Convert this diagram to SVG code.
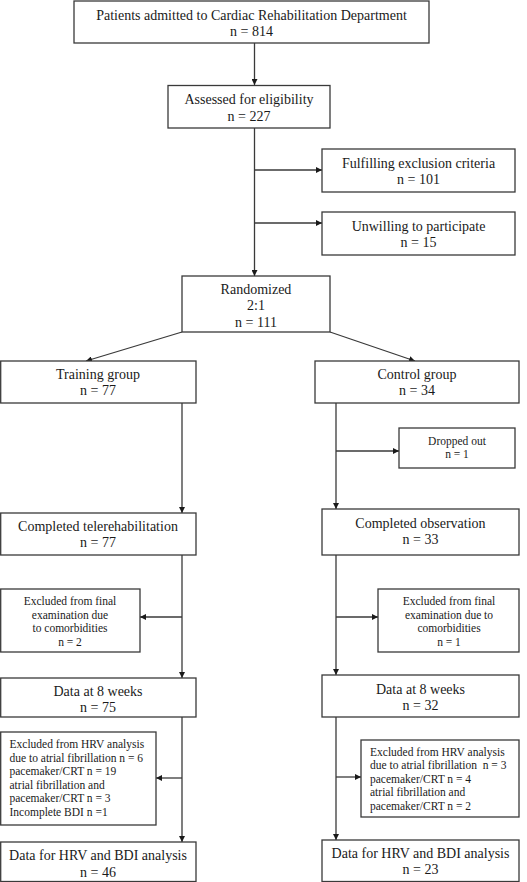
<svg xmlns="http://www.w3.org/2000/svg" width="527" height="882" viewBox="0 0 527 882">
<style>
rect{fill:#fff;stroke:#3a3a3a;stroke-width:1.3}
text{font-family:"Liberation Serif","Times New Roman",serif;fill:#1a1a1a;font-size:14px;text-anchor:middle}
text.s{font-size:11.5px}
text.l{text-anchor:start}
#connectors line,#connectors polyline{stroke:#3a3a3a;stroke-width:1.3;fill:none}
</style>
<defs>
<marker id="ah" viewBox="0 0 10 10" refX="10" refY="5" markerWidth="6" markerHeight="6" orient="auto" markerUnits="userSpaceOnUse">
<path d="M0,0 L10,5 L0,10 z" fill="#1a1a1a"/>
</marker>
</defs>
<rect x="0" y="0" width="527" height="882" style="stroke:none"/>
<g id="connectors">
<line x1="254.5" y1="43" x2="254.5" y2="85" marker-end="url(#ah)"/>
<line x1="254.5" y1="128" x2="254.5" y2="276" marker-end="url(#ah)"/>
<line x1="254.5" y1="170" x2="322" y2="170" marker-end="url(#ah)"/>
<line x1="254.5" y1="223" x2="322" y2="223" marker-end="url(#ah)"/>
<line x1="182" y1="332" x2="86" y2="361" marker-end="url(#ah)"/>
<line x1="330" y1="332" x2="415" y2="361" marker-end="url(#ah)"/>
<line x1="182" y1="403" x2="182" y2="513" marker-end="url(#ah)"/>
<line x1="336" y1="403" x2="336" y2="509" marker-end="url(#ah)"/>
<line x1="336" y1="451" x2="399" y2="451" marker-end="url(#ah)"/>
<line x1="182" y1="555" x2="182" y2="678" marker-end="url(#ah)"/>
<line x1="182" y1="617" x2="140" y2="617" marker-end="url(#ah)"/>
<line x1="336" y1="555" x2="336" y2="675" marker-end="url(#ah)"/>
<line x1="336" y1="617" x2="378" y2="617" marker-end="url(#ah)"/>
<line x1="182" y1="717" x2="182" y2="842" marker-end="url(#ah)"/>
<line x1="182" y1="778" x2="156" y2="778" marker-end="url(#ah)"/>
<line x1="336" y1="717" x2="336" y2="840" marker-end="url(#ah)"/>
<line x1="336" y1="777" x2="361" y2="777" marker-end="url(#ah)"/>
</g>
<g id="n-admitted"><rect x="74" y="1" width="355" height="42"/><text x="251.5" y="20">Patients admitted to Cardiac Rehabilitation Department</text><text x="251.5" y="36">n = 814</text></g>
<g id="n-assessed"><rect x="168" y="85.5" width="162" height="42.5"/><text x="249" y="104">Assessed for eligibility</text><text x="249" y="121">n = 227</text></g>
<g id="n-exclusion"><rect x="322" y="149" width="193" height="43"/><text x="418.5" y="168">Fulfilling exclusion criteria</text><text x="418.5" y="184">n = 101</text></g>
<g id="n-unwilling"><rect x="322" y="212" width="193" height="43"/><text x="418.5" y="231">Unwilling to participate</text><text x="418.5" y="247">n = 15</text></g>
<g id="n-randomized"><rect x="182" y="276" width="148" height="56"/><text x="256" y="294">Randomized</text><text x="256" y="310">2:1</text><text x="256" y="327">n = 111</text></g>
<g id="n-training"><rect x="0.7" y="361" width="195.3" height="42"/><text x="98" y="379">Training group</text><text x="98" y="395">n = 77</text></g>
<g id="n-control"><rect x="315" y="361" width="204" height="42"/><text x="417" y="379">Control group</text><text x="417" y="395">n = 34</text></g>
<g id="n-dropped"><rect x="399" y="428" width="116" height="40"/><text class="s" x="457" y="445">Dropped out</text><text class="s" x="457" y="458">n = 1</text></g>
<g id="n-completed-tele"><rect x="0.7" y="513" width="195.3" height="42"/><text x="98" y="531">Completed telerehabilitation</text><text x="98" y="547">n = 77</text></g>
<g id="n-completed-obs"><rect x="322" y="509" width="197" height="46"/><text x="420.5" y="528">Completed observation</text><text x="420.5" y="544">n = 33</text></g>
<g id="n-excl-left"><rect x="0.7" y="589" width="139.3" height="63"/><text class="s" x="70" y="605">Excluded from final</text><text class="s" x="70" y="619">examination due</text><text class="s" x="70" y="632">to comorbidities</text><text class="s" x="70" y="646">n = 2</text></g>
<g id="n-excl-right"><rect x="378" y="589" width="141" height="63"/><text class="s" x="449" y="605">Excluded from final</text><text class="s" x="449" y="619">examination due to</text><text class="s" x="449" y="632">comorbidities</text><text class="s" x="449" y="646">n = 1</text></g>
<g id="n-data-left"><rect x="0.7" y="678" width="195.3" height="39"/><text x="98" y="696">Data at 8 weeks</text><text x="98" y="712">n = 75</text></g>
<g id="n-data-right"><rect x="322" y="675" width="197" height="42"/><text x="420.5" y="694">Data at 8 weeks</text><text x="420.5" y="710">n = 32</text></g>
<g id="n-hrv-left"><rect x="0.7" y="732" width="155.3" height="93"/><text class="s l" x="9.5" y="748">Excluded from HRV analysis</text><text class="s l" x="9.5" y="762">due to atrial fibrillation n = 6</text><text class="s l" x="9.5" y="775">pacemaker/CRT n = 19</text><text class="s l" x="9.5" y="789">atrial fibrillation and</text><text class="s l" x="9.5" y="802">pacemaker/CRT n = 3</text><text class="s l" x="9.5" y="816">Incomplete BDI n =1</text></g>
<g id="n-hrv-right"><rect x="361" y="740" width="158" height="77"/><text class="s l" x="370" y="756" xml:space="preserve">Excluded from HRV analysis</text><text class="s l" x="370" y="769" xml:space="preserve">due to atrial fibrillation  n = 3</text><text class="s l" x="370" y="783">pacemaker/CRT n = 4</text><text class="s l" x="370" y="796">atrial fibrillation and</text><text class="s l" x="370" y="810">pacemaker/CRT n = 2</text></g>
<g id="n-final-left"><rect x="0.7" y="842" width="195.3" height="39.5"/><text x="98" y="860">Data for HRV and BDI analysis</text><text x="98" y="877">n = 46</text></g>
<g id="n-final-right"><rect x="322" y="840" width="197" height="41.5"/><text x="420.5" y="858">Data for HRV and BDI analysis</text><text x="420.5" y="874">n = 23</text></g>
</svg>
